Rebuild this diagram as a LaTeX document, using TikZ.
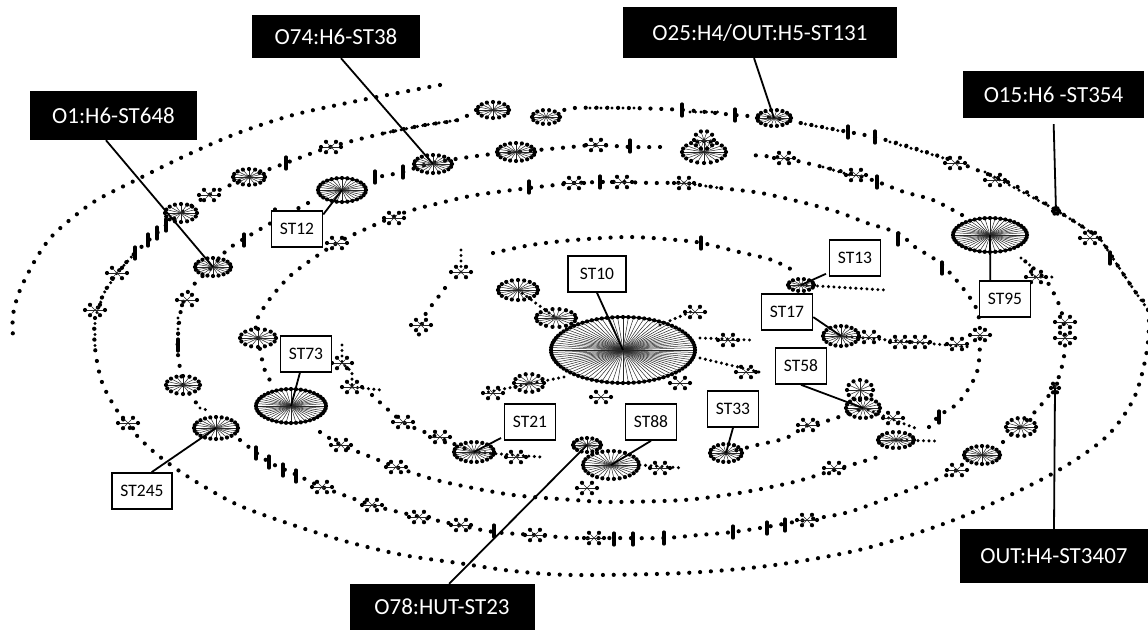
\documentclass[tikz,border=0pt]{standalone}
\usepackage{fontspec}
\setmainfont{Carlito}

% a hub: spokes out to an ellipse, a dot on each spoke end
\newcommand{\hub}[5]{%
  \foreach \a in {1,...,#5} {
    \pgfmathsetmacro{\t}{\a/#5*360}
    \draw[spoke] (#1,#2) -- ++({#3*cos(\t)},{#4*sin(\t)});
    \fill (#1,#2) ++({#3*cos(\t)},{#4*sin(\t)}) circle (2.1pt);
  }
}

\begin{document}
\begin{tikzpicture}[x=1pt,y=-1pt,
    spoke/.style={line width=0.5pt, black!85},
    ringdots/.style={line width=4.2pt, line cap=round, dash pattern=on 0pt off 10.8pt},
    chain/.style={line width=3.4pt, line cap=round, dash pattern=on 0pt off 5.5pt},
    barmark/.style={line width=3.2pt, line cap=round},
    rim/.style={line width=1.6pt},
    stbox/.style={draw, line width=1.6pt, fill=white, minimum width=51pt, minimum height=36pt, inner sep=0pt, font=\fontsize{17.5}{20}\selectfont},
    blackbox/.style={fill=black, text=white, inner sep=0pt, font=\fontsize{23}{26}\selectfont},
    leader/.style={line width=1.8pt}]

    \useasboundingbox (0,0) rectangle (1148,630);
    \fill[white] (0,0) rectangle (1148,630);

    % the tail on the outside
    \draw[ringdots] plot[smooth] coordinates {(440,85) (403,92) (352,102) (293,115) (238,133) (187,155) (132,182) (92,203) (55,233) (37,257) (20,290) (13,315) (13,337)};

    % second ring
    \draw[ringdots] plot[smooth] coordinates {(476,110) (458,120) (425,125) (385,133) (330,147) (286,163) (249,177) (209,195) (181,213) (157,233) (135,253) (117,273) (104,293) (95,318) (95,348) (103,385) (125,422) (154,452) (190,478) (238,505) (293,525) (348,542) (403,555) (458,563) (513,571) (574,575) (684,573) (775,565) (867,548) (959,518) (1050,475) (1105,438) (1134,398) (1147,350) (1148,310) (1134,290) (1116,263) (1101,240) (1083,227) (1056,210) (1014,185) (977,170) (951,160) (904,145) (874,137) (849,132) (801,123) (774,118) (735,115) (684,110) (629,108) (574,108) (560,112)};

    % third ring
    \draw[ringdots] plot[smooth] coordinates {(660,147) (631,147) (596,145) (571,147) (516,152) (484,155) (432,163) (403,172) (377,177)};
    \draw[ringdots] plot[smooth] coordinates {(308,203) (271,223) (242,240) (227,250) (212,267) (189,290) (181,310) (178,335) (178,355) (183,385)};
    \draw[ringdots] plot[smooth] coordinates {(183,385) (200,408)};
    \draw[ringdots] plot[smooth] coordinates {(240,440) (269,462) (297,475) (322,487) (372,505) (403,513) (458,525) (494,532) (535,535) (574,538) (614,538) (664,538) (699,535) (733,532) (766,527) (805,520) (849,512) (904,492) (940,478) (957,470)};
    \draw[ringdots] plot[smooth] coordinates {(1003,442) (1032,415) (1054,388) (1063,362) (1065,338) (1061,310) (1048,283) (1032,267) (1021,258)};
    \draw[ringdots] plot[smooth] coordinates {(962,215) (933,200) (904,192) (878,182) (856,175) (823,167) (783,158) (750,155)};

    % fourth ring
    \draw[ringdots] plot[smooth] coordinates {(574,183) (529,188) (476,195) (440,203) (403,213) (359,232) (337,243) (311,260) (289,277) (269,300) (256,322) (258,338) (264,368) (271,382)};
    \draw[ringdots] plot[smooth] coordinates {(320,432) (341,445) (366,455) (396,467) (429,478) (458,485) (513,495) (574,500) (611,502) (684,500) (739,493) (794,482) (834,470) (878,457)};
    \draw[ringdots] plot[smooth] coordinates {(929,427) (940,415) (959,402) (977,372) (980,335) (977,310) (962,287) (940,263) (915,247) (898,233) (867,223) (838,212) (805,203) (761,193) (720,188) (684,183) (653,183) (622,182) (600,182) (574,183)};

    % inner ring
    \draw[ringdots] plot[smooth] coordinates {(493,253) (531,245) (574,240) (629,237) (677,240) (702,243) (739,252) (772,260) (796,272)};
    \draw[ringdots] plot[smooth] coordinates {(445,288) (436,300) (425,315) (418,338)};
    \draw[ringdots] plot[smooth] coordinates {(372,395) (403,422) (432,435) (474,452)};
    \draw[ringdots] plot[smooth] coordinates {(726,453) (757,445) (786,438) (808,425) (830,420) (863,408)};

    % chains of closer dots
    \draw[chain] (801,285) -- (885,290);
    \draw[chain] (841,336) -- (970,347);
    \draw[chain] (474,452) -- (541,457);
    \draw[chain] (700,338) -- (750,340);
    \draw[chain] (700,358) -- (759,372);
    \draw[chain] (564,377) -- (483,393);
    \draw[chain] (518,290) -- (556,318);
    \draw[chain] (640,465) -- (683,468);
    \draw[chain] (896,440) -- (935,441);
    \draw[chain] (863,408) -- (915,428);
    \draw[chain] (461,272) -- (461,250);
    \draw[chain] (660,325) -- (695,310);
    \draw[chain] (1021,258) -- (1032,267) -- (1032,277) -- (1053,277);
    \draw[chain] (352,387) -- (381,390);
    \draw[chain] (342,345) -- (342,363) -- (352,372) -- (352,387);
    \draw[chain] (385,133) -- (425,125) -- (458,120);
    \draw[chain] (590,108) -- (640,108);
    \draw[chain] (690,112) -- (720,112);
    \draw[chain] (800,123) -- (845,132);
    \draw[chain] (890,142) -- (950,160);
    \draw[chain] (985,172) -- (1056,210);
    \draw[chain] (1056,210) -- (1083,227) -- (1101,240) -- (1116,263) -- (1134,290) -- (1148,310);
    \draw[chain] (135,253) -- (117,273) -- (104,293) -- (95,318);
    \draw[chain] (95,318) -- (95,348);
    \draw[chain] (178,318) -- (178,355);
    \draw[chain] (200,408) -- (207,410);
    \draw[chain] (684,183) -- (720,188);
    \draw[chain] (823,167) -- (850,175);

    % hubs with names
    \coordinate (hubST10) at (623,350);
    \coordinate (hubST73) at (291,406);
    \coordinate (hubST95) at (990,235);
    \coordinate (hubST12) at (342,190);
    \coordinate (hubST245) at (216,428);
    \coordinate (hubST21) at (474,452);
    \coordinate (hubST88) at (611,465);
    \coordinate (hubST17) at (841,336);
    \coordinate (hubST13) at (801,285);
    \coordinate (hubST58) at (863,408);
    \coordinate (hubST33) at (726,453);
    \coordinate (hubO1) at (213,267);
    \coordinate (hubO74) at (433,164);
    \coordinate (hubO25) at (774,118);
    \coordinate (hubO15) at (1056,211);
    \coordinate (hubOUT) at (1055,388);
    \coordinate (hubO78) at (587,445);

    \hub{623}{350}{72}{33}{84}
    \hub{291}{406}{35}{17}{44}
    \hub{990}{235}{37}{17}{44}
    \hub{342}{190}{24}{12}{28}
    \hub{216}{428}{22}{11}{24}
    \hub{474}{452}{20}{10}{22}
    \hub{611}{465}{28}{14}{30}
    \hub{841}{336}{18}{10}{20}
    \hub{801}{285}{13}{6}{14}
    \hub{863}{408}{17}{10}{18}
    \hub{726}{453}{16}{9}{18}
    \hub{213}{267}{18}{9}{20}
    \hub{433}{164}{19}{9}{20}
    \hub{774}{118}{17}{8}{18}
    \hub{587}{445}{14}{7}{16}
    \hub{1056}{211}{3}{3}{6}
    \hub{1055}{388}{4}{5}{6}
    \draw[rim] (hubST10) ellipse (72 and 33);
    \draw[rim] (hubST73) ellipse (35 and 17);
    \draw[rim] (hubST95) ellipse (37 and 17);
    \draw[rim] (hubST12) ellipse (24 and 12);

    % hubs without a label
    \foreach \x/\y/\rx/\ry/\n in {516/152/19/9/20, 704/152/22/11/20, 704/140/10/9/10, 493/110/16/8/16, 546/117/14/7/14,
        249/177/16/8/16, 181/213/16/9/16, 518/290/20/10/20, 556/318/20/9/18, 183/385/17/9/16, 258/338/18/9/16,
        529/383/15/9/14, 896/440/18/8/18, 982/455/18/9/20, 1021/427/15/9/14, 860/390/13/10/12}
        {\hub{\x}{\y}{\rx}{\ry}{\n}}

    % little stars on the rings
    \foreach \x/\y in {117/273, 209/195, 331/147, 394/218, 337/243, 95/310, 187/300, 596/145, 784/158, 856/175, 995/180, 955/163,
        1090/238, 1036/277, 622/182, 684/183, 574/183, 128/423, 342/363, 352/387, 403/422, 440/437, 341/445, 396/467, 322/487,
        372/505, 419/517, 461/525, 535/535, 493/393, 594/538, 807/520, 957/470, 980/335, 1065/338, 1065/322, 834/468, 808/425,
        461/272, 421/325, 516/457, 660/468, 587/488, 728/340, 746/372, 680/383, 601/397, 695/312, 869/337, 900/342, 920/342,
        957/344, 893/418}
        {\hub{\x}{\y}{10}{6}{6}}

    % short bars of dots
    \foreach \x/\y in {286/163, 375/177, 403/172, 275/215, 244/240, 166/225, 157/233, 148/240, 135/253, 529/187, 682/110, 735/115,
        848/132, 875/137, 630/146, 600/182, 701/243, 877/182, 898/239, 942/268, 256/453, 269/462, 283/470, 296/476, 494/531,
        614/539, 633/539, 664/538, 733/532, 767/528, 785/525, 939/417, 178/345, 1110/258}
        {\draw[barmark] (\x,\y-6) -- (\x,\y+6);}

    % white labels
    \node[stbox] (ST12) at (297,229) {ST12};
    \node[stbox, minimum width=58pt] (ST10) at (597,274) {ST10};
    \node[stbox] (ST13) at (855,258) {ST13};
    \node[stbox] (ST95) at (1005,299) {ST95};
    \node[stbox] (ST17) at (787,312) {ST17};
    \node[stbox] (ST73) at (306,354) {ST73};
    \node[stbox] (ST58) at (801,366) {ST58};
    \node[stbox] (ST33) at (733,409) {ST33};
    \node[stbox] (ST88) at (651,422) {ST88};
    \node[stbox] (ST21) at (530,422) {ST21};
    \node[stbox, minimum width=60pt] (ST245) at (142,491) {ST245};

    % black labels
    \node[blackbox, minimum width=167pt, minimum height=49pt] (O1) at (113.5,115.5) {O1:H6-ST648};
    \node[blackbox, minimum width=168pt, minimum height=43pt] (O74) at (336,36.5) {O74:H6-ST38};
    \node[blackbox, minimum width=274pt, minimum height=51pt] (O25) at (760,32.5) {O25:H4/OUT:H5-ST131};
    \node[blackbox, minimum width=181pt, minimum height=47pt] (O15) at (1053.5,94.5) {O15:H6 -ST354};
    \node[blackbox, minimum width=188pt, minimum height=54pt] (OUT) at (1054,556) {OUT:H4-ST3407};
    \node[blackbox, minimum width=185pt, minimum height=46pt] (O78) at (442,607) {O78:HUT-ST23};

    % leaders from the labels to the hubs
    \draw[leader] (ST12.29) -- (hubST12);
    \draw[leader] (ST10.south) -- (hubST10);
    \draw[leader] (ST95.128) -- (hubST95);
    \draw[leader] (ST17.349) -- (hubST17);
    \draw[leader] (ST73.252) -- (hubST73);
    \draw[leader] (ST58.south) -- (hubST58);
    \draw[leader] (ST33.south) -- (hubST33);
    \draw[leader] (ST88.south) -- (hubST88);
    \draw[leader] (ST245.63) -- (hubST245);
    \draw[leader] (O1.253) -- (hubO1);
    \draw[leader] (O74.283) -- (hubO74);
    \draw[leader] (O25.257) -- (hubO25);
    \draw[leader] (OUT.north) -- (hubOUT);
    \draw[leader] (O78.73) -- (hubO78);
    \draw[leader, shorten <=3pt] (ST13.209) -- (hubST13);
    \draw[leader, shorten <=3pt] (ST21.209) -- (hubST21);
    \draw[leader, shorten <=6pt] (O15.south) -- (hubO15);

\end{tikzpicture}
\end{document}
